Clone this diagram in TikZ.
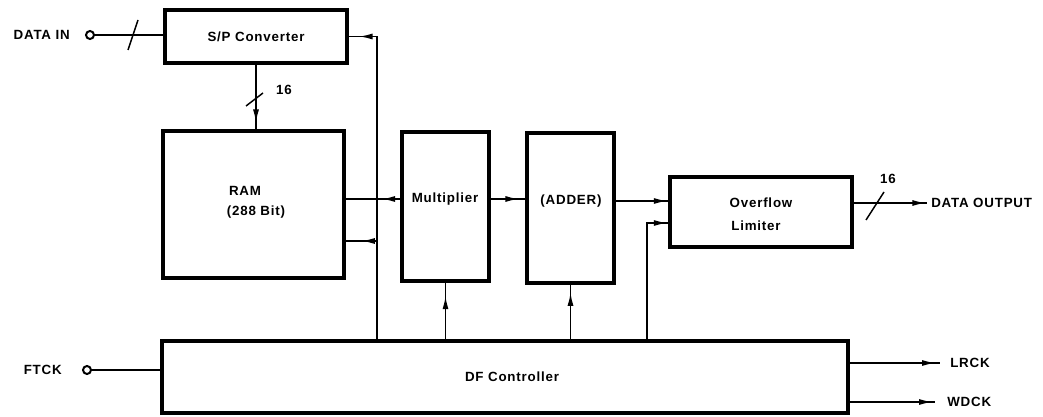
\documentclass[tikz,border=0pt]{standalone}
\usepackage{fontspec}
\setmainfont{Liberation Sans}[LetterSpace=6]
\usetikzlibrary{arrows.meta,decorations.markings}
\begin{document}
\begin{tikzpicture}[x=0.75pt,y=-0.75pt,
  font=\fontsize{10}{12}\selectfont\bfseries,
  blk/.style={draw,line width=2.3pt,inner sep=0pt},
  lbl/.style={inner sep=0pt},
  wire/.style={line width=1.1pt},
  term/.style={draw,circle,line width=1.5pt,minimum size=6pt,inner sep=0pt,fill=white},
  midarr/.style={postaction={decorate},decoration={markings,
     mark=at position #1 with {\arrow{Latex[length=10pt,width=4.5pt]}}}}]
\path[use as bounding box] (0,0) rectangle (1043,417);

% blocks
\node[blk,minimum width=136.5pt,minimum height=39.75pt] (sp) at (256,36.5) {S/P Converter};
\node[blk,minimum width=135.75pt,minimum height=110.25pt] (ram) at (253.5,204.5) {};
\node[lbl] (ramA) at (245,191) {RAM};
\node[lbl] (ramB) at (256,212) {(288 Bit)};
\node[blk,minimum width=65.25pt,minimum height=111.75pt] (mul) at (445.5,206.5) {};
\node[lbl] (mulT) at (445,199) {Multiplier};
\node[blk,minimum width=65.25pt,minimum height=112.5pt] (add) at (570.5,208) {};
\node[lbl] (addT) at (571,201) {(ADDER)};
\node[blk,minimum width=136.5pt,minimum height=52.5pt] (ovf) at (761,212) {};
\node[lbl] (ovfA) at (761,203) {Overflow};
\node[lbl] (ovfB) at (756,226) {Limiter};
\node[blk,minimum width=514.5pt,minimum height=54pt] (dfc) at (505,377) {};
\node[lbl] (dfcT) at (512,377) {DF Controller};

% terminals and labels
\node[term] (din) at (90,35) {};
\node[lbl,anchor=east] (dinL) at (70,35) {DATA IN};
\node[term] (ftck) at (87,370) {};
\node[lbl,anchor=east] (ftckL) at (62,370) {FTCK};
\node[lbl,anchor=west] (dout) at (931,203) {DATA OUTPUT};
\node[lbl,anchor=west] (lrck) at (950,363) {LRCK};
\node[lbl,anchor=west] (wdck) at (947,402) {WDCK};
\node[lbl] (n16a) at (284,90) {16};
\node[lbl] (n16b) at (888,179) {16};

% helper coordinates
\coordinate (bus) at (377,241);
\coordinate (y199) at (0,199);
\coordinate (y201) at (0,201);
\coordinate (ob) at (647,223);

% connectors
\draw[wire] (din) -- (din -| sp.west);
\draw[wire] (128,50) -- (138,20);
\draw[wire,midarr=-5pt] (sp.south) -- (sp.south |- ram.north);
\draw[wire] (246,106) -- (263,93);
\draw[wire,midarr=-8pt] (bus |- dfc.north) |- (sp.east);
\draw[wire,midarr=-12pt] (bus) -- (ram.east |- bus);
\draw[wire,midarr=14pt] (mul.west |- y199) -- (ram.east |- y199);
\draw[wire,midarr=-5pt] (mul.east |- y199) -- (add.west |- y199);
\draw[wire,midarr=-1pt] (add.east |- y201) -- (ovf.west |- y201);
\draw[wire,midarr=-1pt] (ob |- dfc.north) |- (ovf.west |- ob);
\draw[wire,midarr=-4pt,shorten >=3pt] (ovf.east |- dout) -- (dout.west);
\draw[wire] (866,220) -- (884,192);
\draw[wire,midarr=-10pt] (dfc.north -| mul.south) -- (mul.south);
\draw[wire,midarr=-6pt] (dfc.north -| add.south) -- (add.south);
\draw[wire] (ftck) -- (ftck -| dfc.west);
\draw[wire,midarr=-11pt,shorten >=7.5pt] (dfc.east |- lrck) -- (lrck.west);
\draw[wire,midarr=-11pt,shorten >=9pt] (dfc.east |- wdck) -- (wdck.west);
\end{tikzpicture}
\end{document}
